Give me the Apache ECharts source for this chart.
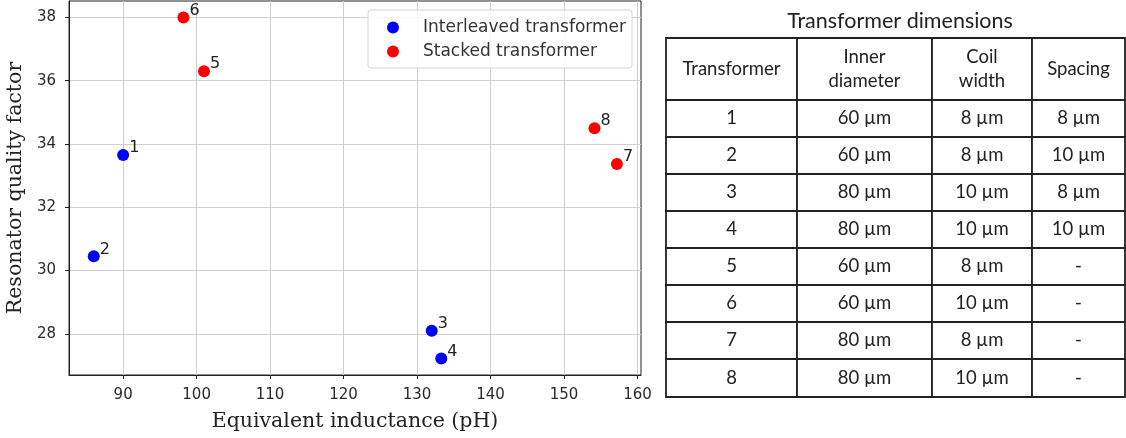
<!DOCTYPE html>
<html>
<head>
<meta charset="utf-8">
<script src="https://cdn.jsdelivr.net/npm/echarts@6/dist/echarts.min.js"></script>
<style>
html,body{margin:0;padding:0;background:#fff;}
#c{width:1126px;height:438px;}
</style>
</head>
<body>
<div id="c"></div>
<script>
// ---- data ----
const interleavedIds = ['1', '2', '3', '4'];
const interleavedL = [90.0, 86.0, 132.0, 133.3];
const interleavedQ = [33.65, 30.45, 28.1, 27.22];
const stackedIds = ['5', '6', '7', '8'];
const stackedL = [101.0, 98.2, 157.2, 154.15];
const stackedQ = [36.3, 38.0, 33.37, 34.5];
const xTicks = [90, 100, 110, 120, 130, 140, 150, 160];
const yTicks = [28, 30, 32, 34, 36, 38];
const seriesNames = ['Interleaved transformer', 'Stacked transformer'];

const tableTitle = 'Transformer dimensions';
const tableHeader = ['Transformer', 'Inner\ndiameter', 'Coil\nwidth', 'Spacing'];
const colTransformer = ['1', '2', '3', '4', '5', '6', '7', '8'];
const colInnerDiameter = ['60 µm', '60 µm', '80 µm', '80 µm', '60 µm', '60 µm', '80 µm', '80 µm'];
const colCoilWidth = ['8 µm', '8 µm', '10 µm', '10 µm', '8 µm', '10 µm', '8 µm', '10 µm'];
const colSpacing = ['8 µm', '10 µm', '8 µm', '10 µm', '-', '-', '-', '-'];

// ---- layout ----
const colEdges = [0, 131, 266, 366, 459];
const rowEdges = [0, 62, 99, 136, 173, 210, 247, 284, 321, 359];

const tableCols = [colTransformer, colInnerDiameter, colCoilWidth, colSpacing];
const cells = [];
tableHeader.forEach((t, c) => cells.push([c, 0, t]));
for (let r = 0; r < colTransformer.length; r++) {
  tableCols.forEach((col, c) => cells.push([c, r + 1, col[r]]));
}

const tickFont = { fontFamily: 'DejaVu Sans', fontSize: 15, color: '#2a2a2a' };
const nameFont = { fontFamily: 'DejaVu Serif', fontSize: 20.5, color: '#222' };
const tableFont = 'Lato';

function pts(xs, ys, ids) { return xs.map((x, i) => [x, ys[i], ids[i]]); }

const chart = echarts.init(document.getElementById('c'), null, { renderer: 'canvas' });
chart.setOption({
  animation: false,
  backgroundColor: '#fff',
  title: {
    text: tableTitle, left: 895, top: 5, textAlign: 'center',
    textStyle: { fontFamily: tableFont, fontSize: 21.5, fontWeight: 'normal', color: '#222' }
  },
  legend: {
    data: seriesNames,
    orient: 'vertical', left: 368, top: 10,
    icon: 'circle', itemWidth: 12, itemHeight: 12, itemGap: 7,
    padding: [9, 6, 8, 19],
    borderColor: '#d6d6d6', borderWidth: 1, borderRadius: 3,
    backgroundColor: 'rgba(255,255,255,0.85)',
    textStyle: { fontFamily: 'DejaVu Sans', fontSize: 17, color: '#333', padding: [0, 0, 0, 19] },
    z: 10
  },
  grid: [
    { left: 69, top: 1, width: 572, height: 374, show: true, borderColor: '#222', borderWidth: 1,
      backgroundColor: 'transparent', outerBoundsMode: 'none', containLabel: false },
    { left: 666, top: 38, width: 459, height: 359, outerBoundsMode: 'none', containLabel: false }
  ],
  xAxis: [
    {
      gridIndex: 0, type: 'value', min: 82.63, max: 160.48,
      name: 'Equivalent inductance (pH)', nameLocation: 'middle', nameGap: 36, nameMoveOverlap: false,
      nameTextStyle: nameFont,
      axisLine: { show: true, onZero: false, lineStyle: { color: '#222', width: 1 } },
      axisTick: { show: true, length: 4, customValues: xTicks, lineStyle: { color: '#222' } },
      axisLabel: Object.assign({ customValues: xTicks, margin: 13 }, tickFont),
      splitLine: { show: true, lineStyle: { color: '#cfcfcf', width: 1 } }
    },
    { gridIndex: 1, type: 'value', min: 0, max: colEdges[colEdges.length - 1], show: false }
  ],
  yAxis: [
    {
      gridIndex: 0, type: 'value', min: 26.7, max: 38.52,
      name: 'Resonator quality factor', nameLocation: 'middle', nameGap: 43, nameMoveOverlap: false,
      nameTextStyle: nameFont,
      axisLine: { show: true, onZero: false, lineStyle: { color: '#222', width: 1 } },
      axisTick: { show: true, length: 4, customValues: yTicks, lineStyle: { color: '#222' } },
      axisLabel: Object.assign({ customValues: yTicks, margin: 13 }, tickFont),
      splitLine: { show: true, lineStyle: { color: '#cfcfcf', width: 1 } }
    },
    { gridIndex: 1, type: 'value', min: 0, max: rowEdges[rowEdges.length - 1], inverse: true, show: false }
  ],
  series: [
    {
      name: seriesNames[0], type: 'scatter', xAxisIndex: 0, yAxisIndex: 0,
      data: pts(interleavedL, interleavedQ, interleavedIds),
      symbolSize: 12, itemStyle: { color: '#0000ff', opacity: 1 },
      label: { show: true, position: 'right', distance: 0, offset: [0, -7], formatter: p => p.data[2],
        fontFamily: 'DejaVu Sans', fontSize: 16, color: '#222' }
    },
    {
      name: seriesNames[1], type: 'scatter', xAxisIndex: 0, yAxisIndex: 0,
      data: pts(stackedL, stackedQ, stackedIds),
      symbolSize: 12, itemStyle: { color: '#ff0000', opacity: 1 },
      label: { show: true, position: 'right', distance: 0, offset: [0, -7], formatter: p => p.data[2],
        fontFamily: 'DejaVu Sans', fontSize: 16, color: '#222' }
    },
    {
      type: 'custom', xAxisIndex: 1, yAxisIndex: 1, silent: true,
      data: cells,
      renderItem: function (params, api) {
        const c = api.value(0), r = api.value(1);
        const d = cells[params.dataIndex];
        const p0 = api.coord([colEdges[c], rowEdges[r]]);
        const p1 = api.coord([colEdges[c + 1], rowEdges[r + 1]]);
        return {
          type: 'group',
          children: [
            { type: 'rect', shape: { x: p0[0], y: p0[1], width: p1[0] - p0[0], height: p1[1] - p0[1] },
              style: { fill: '#fff', stroke: '#222', lineWidth: 1.8 } },
            { type: 'text', x: (p0[0] + p1[0]) / 2, y: (p0[1] + p1[1]) / 2,
              style: { text: d[2], align: 'center', verticalAlign: 'middle',
                font: '18.5px ' + tableFont, fill: '#222', lineHeight: 24 } }
          ]
        };
      }
    }
  ]
});
</script>
</body>
</html>
